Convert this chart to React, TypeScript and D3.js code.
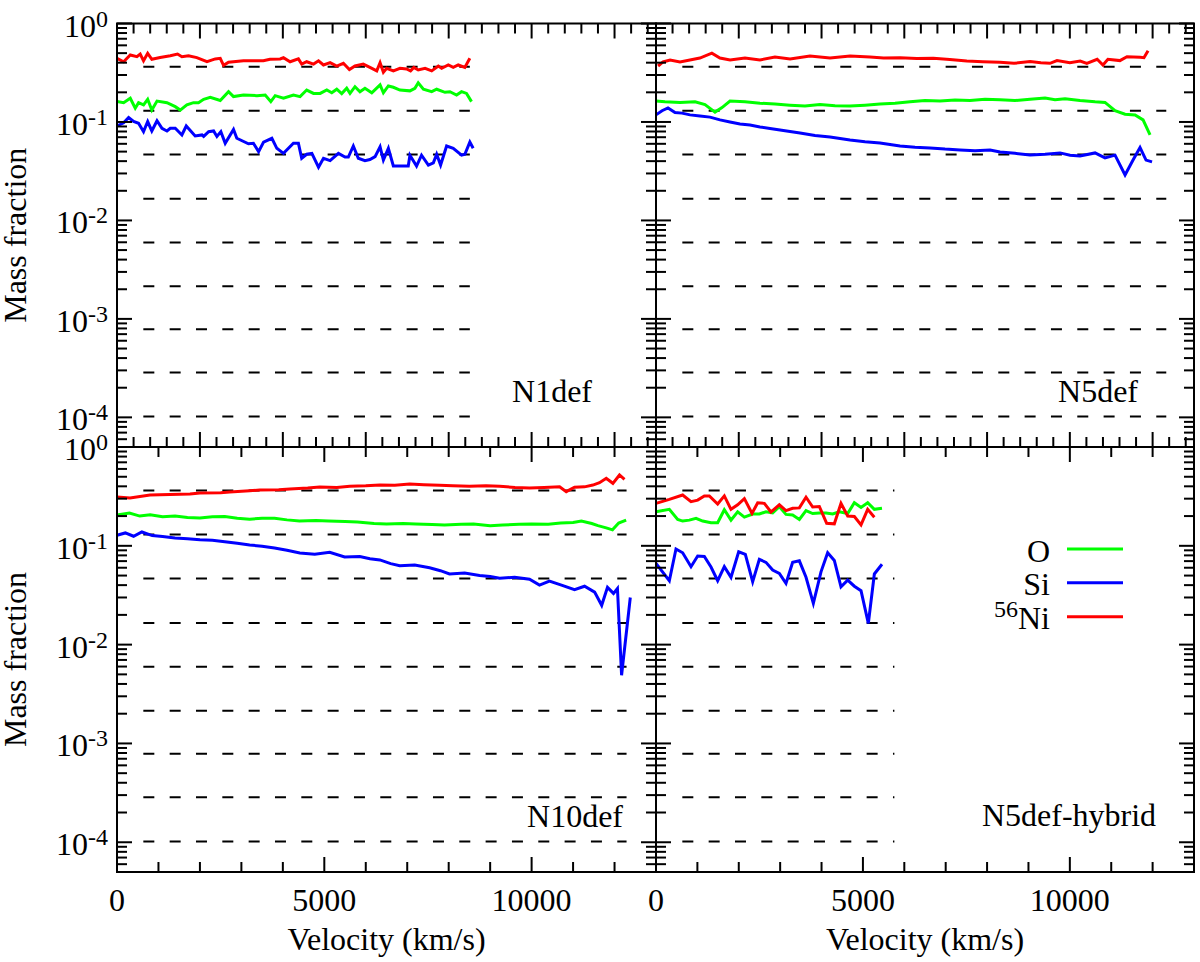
import React from "react";
import * as d3 from "d3";

type Pt = [number, number];

// ---------- data (velocity km/s, mass fraction) ----------
const N1def_Ni: Pt[] = [[0,0.443],[160,0.409],[320,0.479],[480,0.46],[560,0.49],[640,0.418],[740,0.498],[840,0.433],[1040,0.452],[1285,0.471],[1460,0.49],[1565,0.46],[1725,0.471],[1925,0.45],[2170,0.409],[2370,0.437],[2490,0.443],[2570,0.376],[2690,0.405],[3050,0.418],[3530,0.418],[3690,0.433],[3935,0.437],[4015,0.45],[4175,0.409],[4375,0.437],[4455,0.387],[4575,0.409],[4740,0.387],[4860,0.418],[4980,0.379],[5140,0.4],[5300,0.37],[5460,0.394],[5605,0.34],[5740,0.37],[5940,0.387],[6100,0.358],[6265,0.33],[6345,0.4],[6425,0.32],[6505,0.351],[6665,0.33],[6825,0.351],[6985,0.345],[7080,0.33],[7160,0.358],[7265,0.337],[7430,0.351],[7590,0.33],[7750,0.37],[7830,0.351],[7990,0.379],[8110,0.358],[8230,0.379],[8390,0.358],[8510,0.443]];
const N1def_O: Pt[] = [[0,0.161],[160,0.157],[320,0.174],[440,0.138],[520,0.157],[640,0.149],[740,0.17],[840,0.132],[965,0.163],[1205,0.157],[1405,0.143],[1525,0.132],[1685,0.149],[1845,0.157],[1965,0.157],[2090,0.17],[2250,0.178],[2490,0.165],[2690,0.203],[2810,0.181],[3050,0.188],[3375,0.185],[3575,0.188],[3710,0.161],[3815,0.185],[4015,0.174],[4255,0.188],[4415,0.181],[4575,0.211],[4740,0.195],[4900,0.195],[5060,0.211],[5180,0.198],[5300,0.215],[5420,0.194],[5540,0.22],[5620,0.195],[5740,0.228],[5860,0.203],[5980,0.22],[6145,0.198],[6345,0.238],[6425,0.198],[6545,0.232],[6665,0.225],[6825,0.211],[7065,0.207],[7185,0.22],[7265,0.25],[7390,0.215],[7590,0.203],[7710,0.215],[7910,0.2],[8030,0.203],[8190,0.188],[8310,0.203],[8430,0.195],[8550,0.161]];
const N1def_Si: Pt[] = [[0,0.091],[160,0.098],[280,0.111],[400,0.101],[520,0.097],[640,0.0797],[740,0.101],[840,0.081],[965,0.103],[1085,0.0863],[1205,0.081],[1285,0.0863],[1405,0.0863],[1565,0.0738],[1670,0.091],[1885,0.0721],[2050,0.0738],[2090,0.0713],[2210,0.0797],[2330,0.081],[2410,0.0713],[2505,0.0797],[2610,0.0608],[2810,0.084],[2890,0.0683],[3170,0.06],[3290,0.0608],[3415,0.05],[3535,0.0625],[3735,0.0683],[3855,0.054],[4015,0.048],[4255,0.0608],[4375,0.0608],[4455,0.0428],[4575,0.047],[4700,0.048],[4860,0.0347],[4980,0.0428],[5140,0.0405],[5340,0.048],[5500,0.044],[5580,0.044],[5700,0.057],[5820,0.0428],[5980,0.0405],[6100,0.0416],[6225,0.0445],[6345,0.056],[6425,0.041],[6545,0.054],[6665,0.0357],[7025,0.0357],[7065,0.046],[7225,0.0357],[7345,0.046],[7510,0.0365],[7630,0.0385],[7710,0.047],[7805,0.0365],[7950,0.057],[8110,0.054],[8310,0.046],[8390,0.047],[8510,0.0625],[8590,0.054]];

const N5def_Ni: Pt[] = [[50,0.37],[170,0.407],[340,0.426],[580,0.407],[820,0.426],[1060,0.446],[1350,0.5],[1545,0.446],[1790,0.426],[2150,0.446],[2510,0.426],[2875,0.457],[3240,0.436],[3720,0.467],[4205,0.446],[4690,0.467],[5170,0.457],[5500,0.446],[5900,0.45],[6300,0.44],[6700,0.443],[7100,0.43],[7510,0.416],[7900,0.41],[8310,0.404],[8650,0.394],[9040,0.41],[9300,0.4],[9520,0.394],[9690,0.42],[10000,0.4],[10250,0.416],[10410,0.394],[10660,0.433],[10800,0.379],[10920,0.433],[11210,0.42],[11380,0.46],[11700,0.453],[11790,0.45],[11890,0.53]];
const N5def_O: Pt[] = [[0,0.163],[217,0.16],[580,0.158],[943,0.16],[1184,0.15],[1426,0.126],[1595,0.14],[1788,0.163],[2150,0.16],[2513,0.155],[2876,0.152],[3238,0.148],[3600,0.145],[3963,0.15],[4326,0.146],[4688,0.145],[5050,0.148],[5413,0.152],[5776,0.155],[6138,0.16],[6500,0.165],[6863,0.163],[7226,0.167],[7588,0.165],[7951,0.17],[8313,0.168],[8676,0.165],[9038,0.17],[9401,0.175],[9642,0.168],[9884,0.172],[10246,0.165],[10609,0.16],[10850,0.158],[11092,0.13],[11334,0.12],[11576,0.118],[11769,0.105],[11938,0.074]];
const N5def_Si: Pt[] = [[0,0.118],[145,0.13],[290,0.139],[460,0.125],[628,0.123],[822,0.118],[1063,0.115],[1305,0.112],[1547,0.105],[1788,0.1],[2030,0.0955],[2272,0.093],[2513,0.089],[2755,0.086],[2997,0.083],[3238,0.08],[3480,0.0773],[3842,0.073],[4205,0.0704],[4447,0.068],[4688,0.0657],[5050,0.063],[5413,0.0612],[5655,0.059],[5897,0.057],[6259,0.0555],[6621,0.0545],[6984,0.053],[7347,0.052],[7709,0.051],[8072,0.052],[8313,0.0496],[8676,0.048],[9038,0.0462],[9401,0.047],[9763,0.0485],[10005,0.046],[10246,0.0452],[10609,0.0485],[10850,0.0432],[11092,0.046],[11334,0.029],[11527,0.0411],[11696,0.055],[11841,0.041],[11986,0.0393]];

const N10def_Ni: Pt[] = [[0,0.312],[313,0.305],[795,0.327],[1277,0.33],[1760,0.335],[2000,0.342],[2500,0.345],[2720,0.35],[3200,0.36],[3445,0.367],[3900,0.37],[4170,0.376],[4600,0.385],[4890,0.394],[5300,0.39],[5615,0.4],[6000,0.405],[6340,0.413],[6700,0.41],[7060,0.422],[7400,0.415],[7780,0.41],[8100,0.405],[8500,0.4],[8900,0.405],[9230,0.4],[9600,0.39],[9950,0.385],[10300,0.39],[10675,0.396],[10835,0.353],[11035,0.391],[11277,0.395],[11477,0.412],[11638,0.435],[11800,0.482],[11960,0.429],[12120,0.521],[12240,0.471]];
const N10def_O: Pt[] = [[0,0.205],[300,0.215],[550,0.2],[800,0.206],[1100,0.197],[1400,0.2],[1700,0.193],[2000,0.191],[2300,0.197],[2600,0.198],[2900,0.19],[3200,0.186],[3500,0.19],[3800,0.19],[4100,0.183],[4400,0.178],[4800,0.18],[5100,0.178],[5500,0.176],[5800,0.174],[6200,0.168],[6500,0.166],[6900,0.168],[7200,0.166],[7600,0.164],[7900,0.162],[8300,0.165],[8600,0.166],[9000,0.16],[9300,0.162],[9700,0.165],[10000,0.166],[10400,0.165],[10700,0.17],[11000,0.172],[11200,0.178],[11450,0.168],[11600,0.16],[11800,0.152],[11950,0.145],[12100,0.17],[12280,0.182]];
const N10def_Si: Pt[] = [[0,0.128],[200,0.135],[400,0.125],[600,0.138],[850,0.127],[1100,0.124],[1400,0.12],[1700,0.118],[2000,0.115],[2300,0.114],[2600,0.11],[2900,0.106],[3200,0.102],[3500,0.099],[3800,0.095],[4100,0.09],[4410,0.0846],[4770,0.082],[5130,0.086],[5490,0.077],[5855,0.078],[6100,0.074],[6340,0.072],[6600,0.066],[6820,0.063],[7180,0.064],[7540,0.06],[7800,0.056],[8020,0.052],[8385,0.053],[8745,0.05],[9000,0.049],[9230,0.047],[9590,0.048],[9950,0.046],[10190,0.04],[10430,0.044],[10720,0.04],[11035,0.036],[11277,0.039],[11520,0.034],[11690,0.025],[11830,0.038],[11975,0.033],[12070,0.037],[12170,0.0049],[12380,0.03]];

const N5defHybrid_Ni: Pt[] = [[0,0.269],[322,0.295],[644,0.327],[846,0.28],[1007,0.29],[1168,0.32],[1289,0.32],[1490,0.265],[1651,0.32],[1812,0.234],[1973,0.26],[2135,0.3],[2320,0.213],[2457,0.272],[2618,0.269],[2779,0.22],[2980,0.26],[3141,0.227],[3302,0.24],[3464,0.242],[3625,0.31],[3786,0.247],[3947,0.25],[4124,0.169],[4309,0.167],[4470,0.269],[4632,0.2],[4793,0.198],[4954,0.163],[5115,0.234],[5276,0.195]];
const N5defHybrid_O: Pt[] = [[0,0.221],[322,0.234],[524,0.185],[644,0.178],[806,0.182],[967,0.19],[1128,0.178],[1329,0.171],[1490,0.171],[1651,0.232],[1812,0.182],[1973,0.221],[2135,0.195],[2336,0.21],[2497,0.21],[2658,0.221],[2819,0.215],[2980,0.249],[3141,0.208],[3302,0.205],[3464,0.185],[3625,0.227],[3786,0.212],[3947,0.215],[4108,0.215],[4269,0.21],[4430,0.221],[4632,0.212],[4793,0.273],[4954,0.245],[5115,0.273],[5276,0.234],[5461,0.24]];
const N5defHybrid_Si: Pt[] = [[0,0.0665],[322,0.0443],[483,0.0929],[644,0.0851],[846,0.0615],[1007,0.0788],[1168,0.078],[1329,0.061],[1490,0.0443],[1651,0.0615],[1812,0.048],[1998,0.087],[2159,0.082],[2336,0.0433],[2497,0.073],[2658,0.068],[2819,0.0569],[2980,0.0526],[3141,0.0417],[3302,0.068],[3464,0.0705],[3625,0.048],[3802,0.0262],[3987,0.0545],[4148,0.085],[4309,0.0712],[4470,0.0385],[4632,0.045],[4793,0.039],[4954,0.0351],[5131,0.0164],[5276,0.0519],[5461,0.065]];

// horizontal dashed reference levels
const DASH_LEVELS = [0.363, 0.13, 0.0466, 0.0166, 0.00596, 0.00214, 0.000785, 0.000285, 0.000102];

// axes
const X_DOMAIN: [number, number] = [0, 13000];
const Y_DOMAIN: [number, number] = [5e-5, 1];
const Y_MAJOR = [1, 0.1, 0.01, 0.001, 0.0001];
const Y_EXP = ["0", "-1", "-2", "-3", "-4"];
const X_LABELS = [0, 5000, 10000];
const X_STEP_TOP = { major: 2000, minor: 400 };
const X_STEP_BOTTOM = { major: 5000, minor: 1000 };

const SPECIES = ["O", "Si", "Ni"];
const COLORS: Record<string, string> = { O: "#00ff00", Si: "#0000ff", Ni: "#ff0000" };

// ---------- layout ----------
const COLS = [{ x0: 117, x1: 656 }, { x0: 656, x1: 1194 }];
const ROWS = [{ y0: 23.5, y1: 447 }, { y0: 447, y1: 872 }];

const PANELS = [
  { name: "N1def", col: 0, row: 0, series: { O: N1def_O, Si: N1def_Si, Ni: N1def_Ni }, dash: [280, 8510], label: { x: 552, y: 401.7 } },
  { name: "N5def", col: 1, row: 0, series: { O: N5def_O, Si: N5def_Si, Ni: N5def_Ni }, dash: [280, 12330], label: { x: 1098, y: 401.7 } },
  { name: "N10def", col: 0, row: 1, series: { O: N10def_O, Si: N10def_Si, Ni: N10def_Ni }, dash: [280, 12290], label: { x: 575, y: 827 } },
  { name: "N5def-hybrid", col: 1, row: 1, series: { O: N5defHybrid_O, Si: N5defHybrid_Si, Ni: N5defHybrid_Ni }, dash: [280, 5760], label: { x: 1069, y: 826 } },
];

const FONT = "'Liberation Serif', 'Times New Roman', Times, serif";
const FS = 32;
const MAJ = 15;
const MIN = 10;
const PERIOD = 26.33;
const DASH = 11;

function yMinorTicks(): number[] {
  const out: number[] = [];
  for (let k = -5; k <= -1; k++) {
    for (let m = 2; m <= 9; m++) {
      const v = m * Math.pow(10, k);
      if (v >= Y_DOMAIN[0] - 1e-12 && v <= Y_DOMAIN[1]) out.push(v);
    }
  }
  return out;
}

export default function App() {
  const minorY = yMinorTicks();
  const elems: React.ReactNode[] = [];

  PANELS.forEach((p, pi) => {
    const C = COLS[p.col];
    const R = ROWS[p.row];
    const xs = d3.scaleLinear().domain(X_DOMAIN).range([C.x0, C.x1]);
    const ys = d3.scaleLog().domain(Y_DOMAIN).range([R.y1, R.y0]);
    const line = d3.line<Pt>().x((d) => xs(d[0])).y((d) => ys(d[1]));

    // dashed reference lines
    const xa = xs(p.dash[0]);
    const xb = xs(p.dash[1]);
    DASH_LEVELS.forEach((lv, i) => {
      elems.push(
        <line key={`d${pi}-${i}`} x1={xa} x2={xb} y1={ys(lv)} y2={ys(lv)} stroke="#000" strokeWidth={2}
          strokeDasharray={`${DASH} ${PERIOD - DASH}`} strokeDashoffset={xa - xs(0)} />
      );
    });

    // data
    SPECIES.forEach((s) => {
      const data = (p.series as Record<string, Pt[]>)[s];
      elems.push(<path key={`s${pi}-${s}`} d={line(data) || ""} fill="none" stroke={COLORS[s]} strokeWidth={3} strokeLinejoin="miter" />);
    });

    // frame
    elems.push(<rect key={`f${pi}`} x={C.x0} y={R.y0} width={C.x1 - C.x0} height={R.y1 - R.y0} fill="none" stroke="#000" strokeWidth={2} />);

    // x ticks
    const step = p.row === 0 ? X_STEP_TOP : X_STEP_BOTTOM;
    const xt = d3.range(X_DOMAIN[0], X_DOMAIN[1] + 1, step.minor);
    xt.forEach((v, i) => {
      const isMaj = Math.abs(v % step.major) < 1e-6;
      const len = isMaj ? MAJ : MIN;
      const x = xs(v);
      if (v === 0) return;
      elems.push(<line key={`xt${pi}-${i}a`} x1={x} x2={x} y1={R.y0} y2={R.y0 + len} stroke="#000" strokeWidth={2} />);
      elems.push(<line key={`xt${pi}-${i}b`} x1={x} x2={x} y1={R.y1} y2={R.y1 - len} stroke="#000" strokeWidth={2} />);
    });

    // y ticks
    const allY = [...Y_MAJOR.map((v) => ({ v, maj: true })), ...minorY.map((v) => ({ v, maj: false }))];
    allY.forEach((t, i) => {
      const y = ys(t.v);
      const len = t.maj ? MAJ : MIN;
      elems.push(<line key={`yt${pi}-${i}a`} x1={C.x0} x2={C.x0 + len} y1={y} y2={y} stroke="#000" strokeWidth={2} />);
      elems.push(<line key={`yt${pi}-${i}b`} x1={C.x1} x2={C.x1 - len} y1={y} y2={y} stroke="#000" strokeWidth={2} />);
    });

    // y tick labels
    if (p.col === 0) {
      Y_MAJOR.forEach((v, i) => {
        elems.push(
          <text key={`yl${pi}-${i}`} x={C.x0 - 9} y={ys(v) + 13} textAnchor="end" fontSize={FS}>
            10<tspan dy={-10} fontSize={FS * 0.75}>{Y_EXP[i]}</tspan>
          </text>
        );
      });
      elems.push(
        <text key={`yt${pi}`} transform={`translate(26,${(R.y0 + R.y1) / 2}) rotate(-90)`} textAnchor="middle" fontSize={FS}>
          Mass fraction
        </text>
      );
    }

    // x tick labels
    if (p.row === 1) {
      X_LABELS.forEach((v, i) => {
        elems.push(<text key={`xl${pi}-${i}`} x={xs(v)} y={911} textAnchor="middle" fontSize={FS}>{v}</text>);
      });
      elems.push(<text key={`xtt${pi}`} x={(C.x0 + C.x1) / 2} y={950} textAnchor="middle" fontSize={FS}>Velocity (km/s)</text>);
    }

    // panel label
    elems.push(<text key={`pl${pi}`} x={p.label.x} y={p.label.y} textAnchor="middle" fontSize={FS}>{p.name}</text>);
  });

  // legend
  const legend = [
    { s: "O", y: 549 },
    { s: "Si", y: 582.7 },
    { s: "Ni", y: 616.7 },
  ];
  legend.forEach((l) => {
    elems.push(<line key={`lg-${l.s}`} x1={1067} x2={1123} y1={l.y} y2={l.y} stroke={COLORS[l.s]} strokeWidth={3} />);
    elems.push(
      <text key={`lt-${l.s}`} x={1050} y={l.y + 12.6} textAnchor="end" fontSize={FS}>
        {l.s === "Ni" ? (<><tspan dy={-12.6} fontSize={24}>56</tspan><tspan dy={12.6}>Ni</tspan></>) : l.s}
      </text>
    );
  });

  return (
    <svg width={1200} height={962} style={{ position: "absolute", left: 0, top: 0, background: "#fff" }} fontFamily={FONT}>
      <rect x={0} y={0} width={1200} height={962} fill="#fff" />
      {elems}
    </svg>
  );
}
